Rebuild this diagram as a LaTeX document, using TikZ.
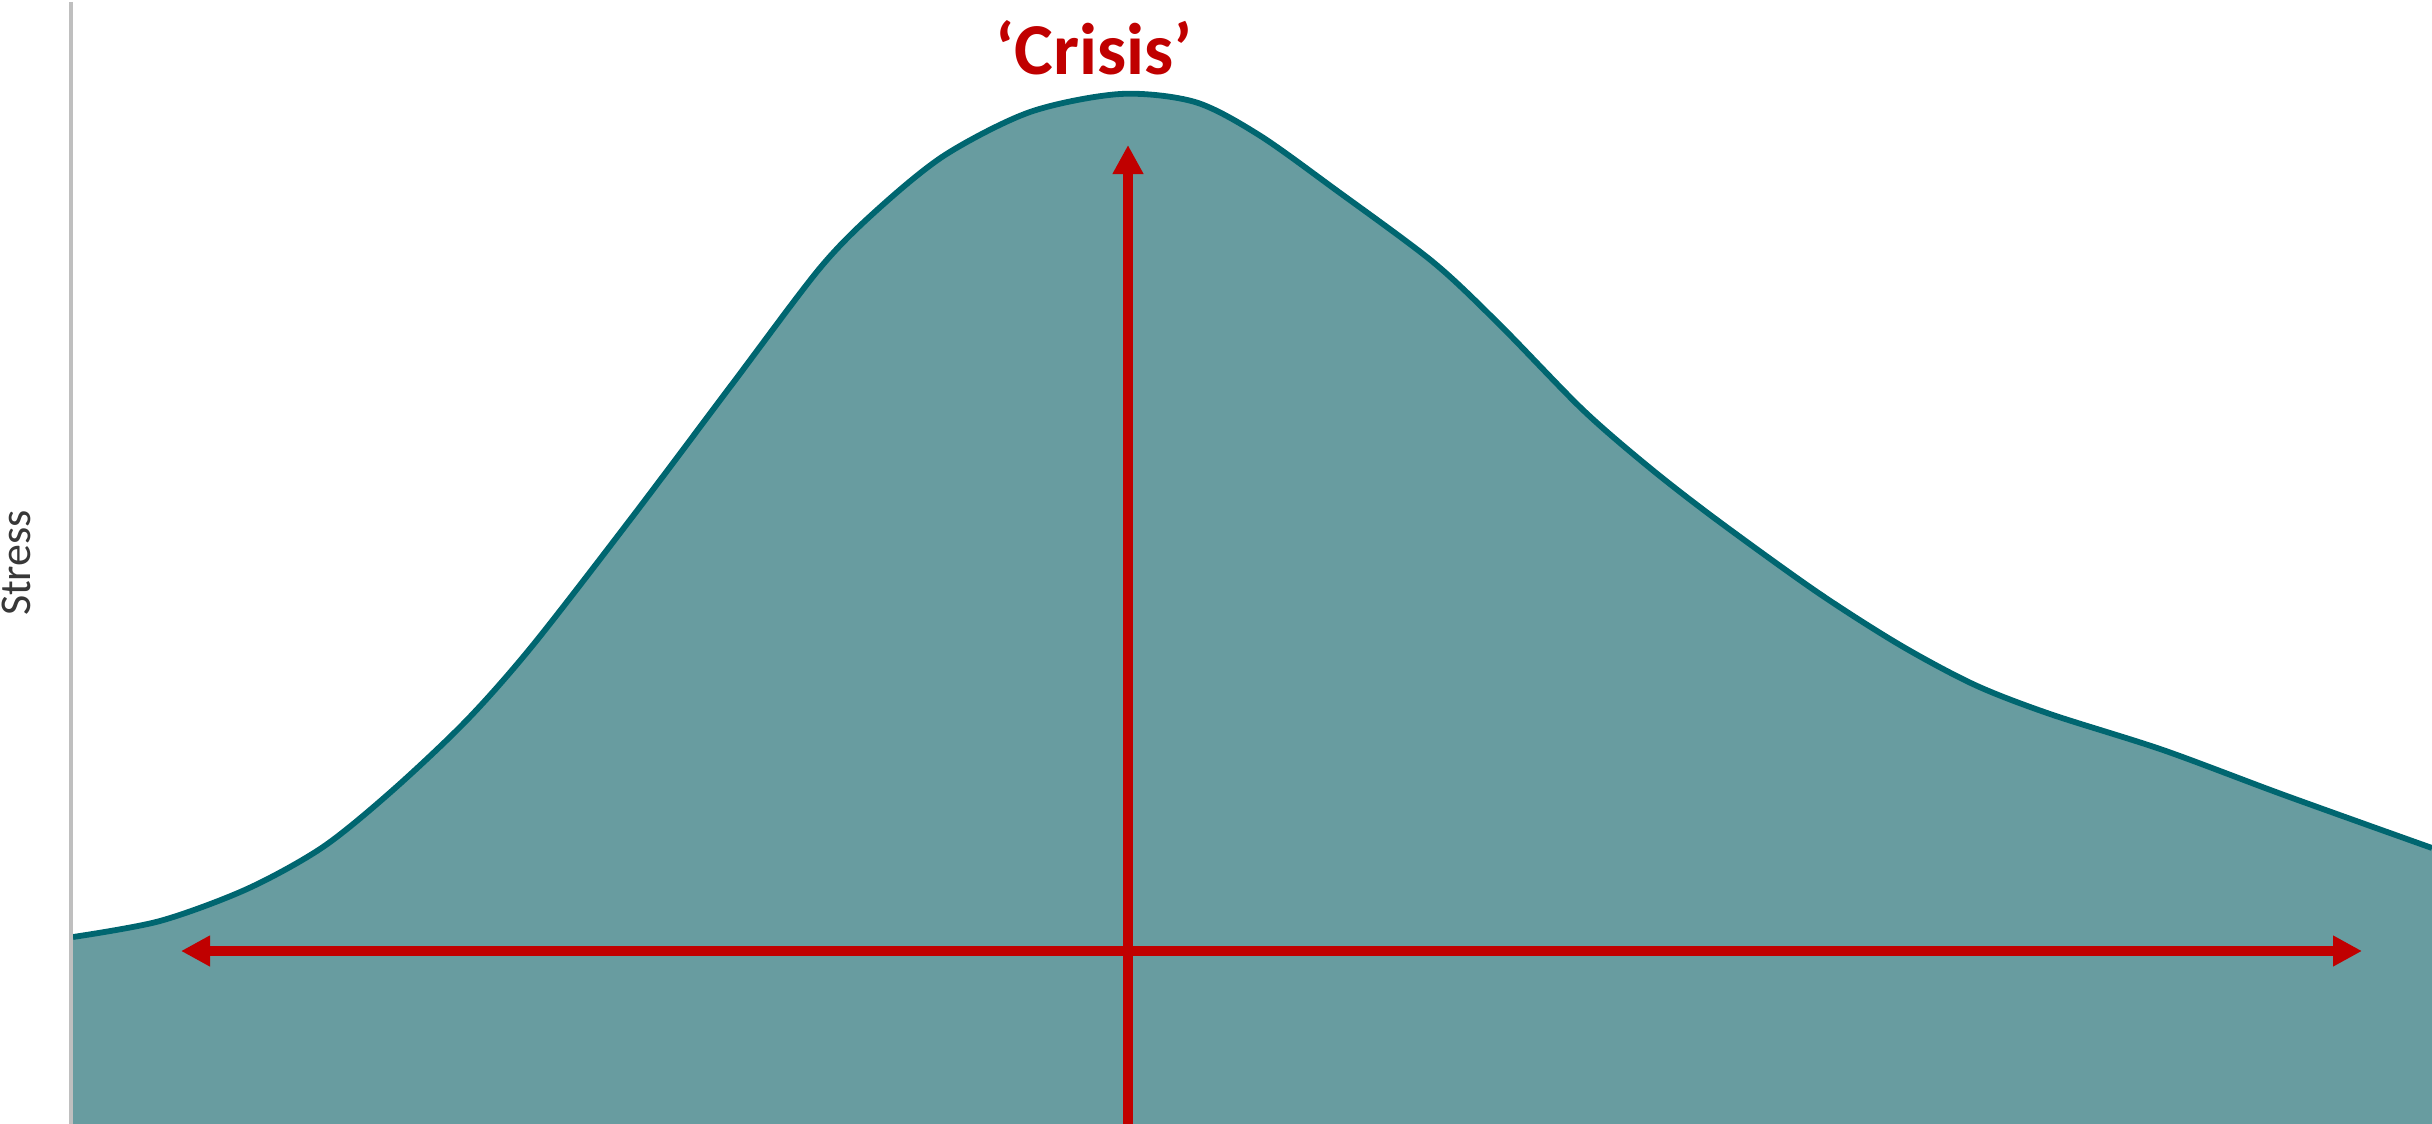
\documentclass[tikz,border=0pt]{standalone}
\usepackage{fontspec}
\setmainfont{Carlito}
\usetikzlibrary{arrows.meta}
\definecolor{curvefill}{RGB}{104,156,160}
\definecolor{curveline}{RGB}{0,102,112}
\definecolor{crisisred}{RGB}{192,0,0}
\definecolor{axisgray}{RGB}{191,191,191}
\definecolor{labelgray}{RGB}{56,56,56}

\begin{document}
\begin{tikzpicture}[
    x=0.01cm, y=-0.01cm,
    >={Triangle[length=0.29cm, width=0.29cm]},
    axisline/.style={draw=axisgray, line width=0.03cm},
    curvearea/.style={fill=curvefill},
    stresscurve/.style={draw=curveline, line width=0.058cm, line join=round},
    redarrow/.style={draw=crisisred, fill=crisisred, line width=0.105cm},
    axislabel/.style={text=labelgray, font=\fontsize{12.5}{15}\selectfont},
    crisislabel/.style={text=crisisred, font=\bfseries\fontsize{20.8}{25}\selectfont}
]
\useasboundingbox (0,0) rectangle (2432,1124);
% stress curve
\def\stresspoints{(73,937) (160,921) (247,889) (323,847) (393,790) (467,720) (533,645) (633,516) (733,383) (820,268) (877,210) (945,155) (1030,112) (1120,94) (1195,102) (1259,135) (1336,190) (1433,262) (1500,325) (1583,410) (1650,468) (1717,520) (1817,592) (1900,645) (1975,685) (2050,714) (2163,750) (2284,795) (2432,848)}
\fill[curvearea] plot[smooth] coordinates {\stresspoints} -- (2432,1124) -- (73,1124) -- cycle;
\draw[stresscurve] plot[smooth] coordinates {\stresspoints};
% axis
\coordinate (axistop) at (71,2);
\coordinate (axisbottom) at (71,1124);
\draw[axisline] (axistop) -- (axisbottom);
\node[axislabel, rotate=90] (stress) at (16,563) {Stress};
% arrows
\coordinate (hleft) at (181,951);
\coordinate (hright) at (2362,951);
\coordinate (vbottom) at (1128,1124);
\coordinate (vtop) at (1128,145);
\draw[redarrow, <->] (hleft) -- (hright);
\draw[redarrow, ->] (vbottom) -- (vtop);
\node[crisislabel, anchor=base] (crisis) at (1094,74) {‘Crisis’};
\end{tikzpicture}
\end{document}
